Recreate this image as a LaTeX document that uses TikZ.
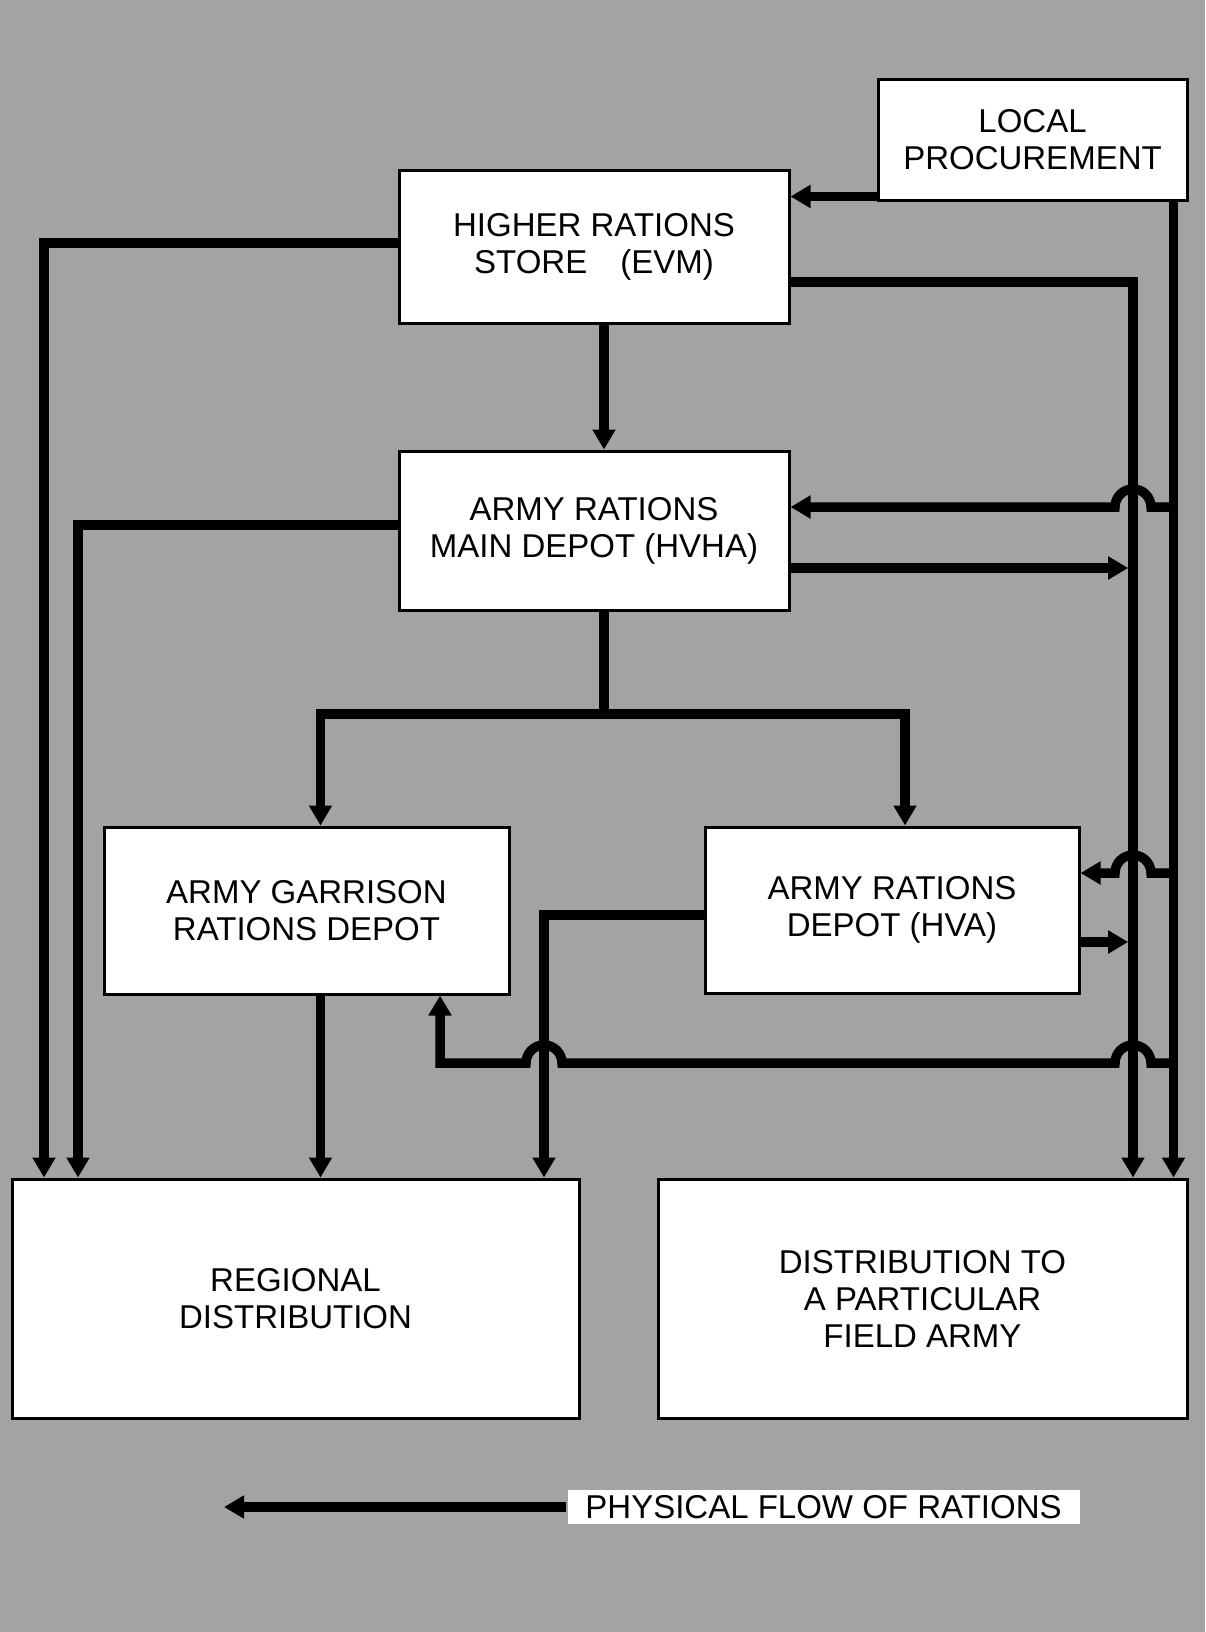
\documentclass[tikz,border=0pt]{standalone}
\usepackage{fontspec}
\setmainfont{Liberation Sans}
\usetikzlibrary{arrows.meta,calc}
\definecolor{paper}{gray}{0.64}
\tikzset{
  every picture/.style={
    line join=miter,
  },
  box/.style={draw, line width=1.5pt, fill=white, align=center, inner sep=0pt,
    font=\fontsize{16.5}{18.5}\selectfont},
  flow/.style={line width=4.75pt, -{Triangle[length=10pt,width=11pt]}},
  feed/.style={line width=4.75pt},
}

\begin{document}
\begin{tikzpicture}[x=0.5pt, y=-0.5pt]
    % Background
    \fill[paper] (0,0) rectangle (1205,1632);
    \useasboundingbox (0,0) rectangle (1205,1632);

    % Boxes
    \node[box, minimum width=154.5pt, minimum height=60pt] (lp) at (1032.5,140) {LOCAL\\PROCUREMENT};
    \node[box, minimum width=195pt, minimum height=76.5pt] (hrs) at (594,246.5) {HIGHER RATIONS\\STORE\quad(EVM)};
    \node[box, minimum width=195pt, minimum height=79.5pt] (main) at (594,530.5) {ARMY RATIONS\\MAIN DEPOT (HVHA)};
    \node[box, minimum width=202.5pt, minimum height=83.5pt] (gar) at (306.5,910.5) {ARMY GARRISON\\RATIONS DEPOT};
    \node[box, minimum width=187pt, minimum height=83pt] (hva) at (892,910) {ARMY RATIONS\\DEPOT (HVA)};
    \node[box, minimum width=283.5pt, minimum height=119.5pt] (reg) at (295.5,1298.5) {REGIONAL\\DISTRIBUTION};
    \node[box, minimum width=264.5pt, minimum height=119.5pt] (fld) at (922.5,1298.5) {DISTRIBUTION TO\\A PARTICULAR\\FIELD ARMY};
    \node[box, draw=none, minimum width=256pt, minimum height=17pt] (key) at (823.5,1507) {PHYSICAL FLOW OF RATIONS};

    % Line tracks
    \coordinate (colA) at (1133,282);   % column from the store
    \coordinate (colL) at (44,243);     % outer left column
    \coordinate (colM) at (78,525);     % inner left column
    \coordinate (split) at (604,714);
    \coordinate (colH) at (544,915);    % column from depot HVA
    \coordinate (low) at (440,1063);
    \coordinate (keyend) at (224,1507);
    \coordinate (mainin) at ([yshift=11.75pt]main.east);
    \coordinate (mainout) at ([yshift=-18.75pt]main.east);
    \coordinate (hvain) at ([yshift=18.5pt]hva.east);
    \coordinate (hvaout) at ([yshift=-16pt]hva.east);

    % Local procurement
    \draw[flow] ([xshift=-7.5pt]lp.south east) coordinate (lpcol) -- (lpcol |- fld.north);
    \draw[flow] ([yshift=2.5pt]lp.south west) coordinate (lpin) -- (lpin -| hrs.east);

    % From the store
    \draw[flow] (hrs.east |- colA) -- (colA) -- (colA |- fld.north);
    \draw[flow] (hrs.west |- colL) -- (colL) -- (colL |- reg.north);
    \draw[flow] ([xshift=5pt]hrs.south) -- ([xshift=5pt]main.north);

    % Main depot
    \draw[flow] (main.west |- colM) -- (colM) -- (colM |- reg.north);
    \draw[flow] (lpcol |- mainin) -- ($(colA |- mainin)+(18,0)$)
        arc[start angle=0, end angle=180, radius=9pt] -- (mainin);
    \draw[flow, shorten >=2.4pt] (mainout) -- (mainout -| colA);
    \draw[feed] ([xshift=5pt]main.south) -- (split);
    \draw[flow] (split) -| ([xshift=7pt]gar.north);
    \draw[flow] (split) -| ([xshift=6.5pt]hva.north);

    % Lower depots
    \draw[flow] ([xshift=7pt]gar.south) -- ([xshift=7pt]gar.south |- reg.north);
    \draw[flow] (hva.west |- colH) -- (colH) -- (colH |- reg.north);
    \draw[flow] (lpcol |- hvain) -- ($(colA |- hvain)+(18,0)$)
        arc[start angle=0, end angle=180, radius=9pt] -- (hvain);
    \draw[flow, shorten >=2.4pt] (hvaout) -- (hvaout -| colA);
    \draw[flow] (lpcol |- low) -- ($(colA |- low)+(18,0)$)
        arc[start angle=0, end angle=180, radius=9pt] -- ($(colH |- low)+(18,0)$)
        arc[start angle=0, end angle=180, radius=9pt] -- (low) -- (low |- gar.south);

    % Key
    \draw[flow] (key.west) -- (keyend);
\end{tikzpicture}
\end{document}
